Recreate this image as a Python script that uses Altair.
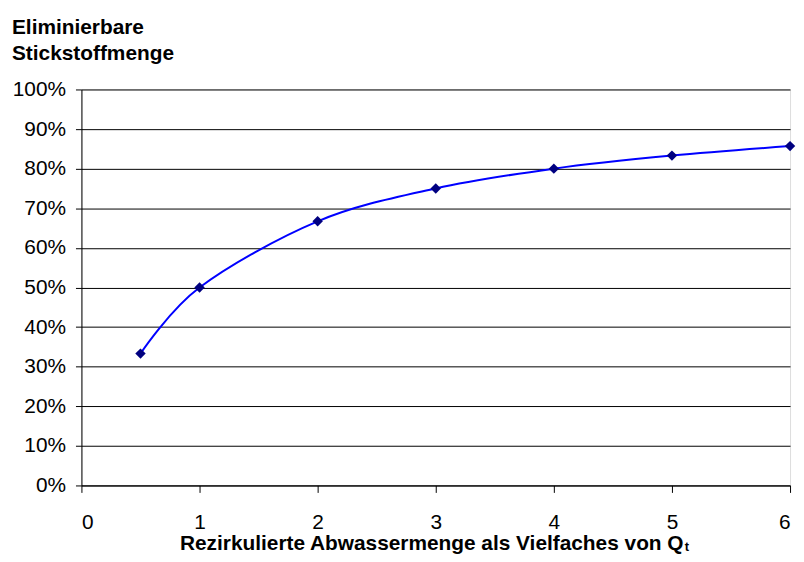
import altair as alt
import pandas as pd

# Data
ratio = [0.5, 1, 2, 3, 4, 5, 6]
removable = [0.333, 0.5, 0.667, 0.75, 0.8, 0.833, 0.857]
x_ticks = [0, 1, 2, 3, 4, 5, 6]
y_ticks = [0, 0.1, 0.2, 0.3, 0.4, 0.5, 0.6, 0.7, 0.8, 0.9, 1.0]

df = pd.DataFrame({"ratio": ratio, "removable": removable})

FONT = "Liberation Sans"

x_enc = alt.X(
    "ratio:Q",
    scale=alt.Scale(domain=[0, 6], nice=False, zero=False),
    axis=alt.Axis(
        values=x_ticks,
        format="d",
        grid=False,
        tickSize=7,
        tickColor="black",
        domainColor="black",
        labelPadding=19,
        labelFontSize=21,
        labelColor="black",
        labelFont=FONT,
        labelOverlap=False,
        title="Rezirkulierte Abwassermenge als Vielfaches von Q",
        titleFont=FONT,
        titleFontSize=21,
        titleFontWeight="bold",
        titleColor="black",
        titleX=352.5,
        titleY=65,
        titleAlign="center",
        titleBaseline="alphabetic",
        titleAnchor="start",
    ),
)

y_enc = alt.Y(
    "removable:Q",
    scale=alt.Scale(domain=[0, 1], nice=False),
    axis=alt.Axis(
        values=y_ticks,
        tickCount=11,
        format=".0%",
        grid=True,
        gridColor="black",
        gridWidth=1,
        tickSize=6,
        tickColor="black",
        domainColor="black",
        labelPadding=10,
        labelFontSize=21,
        labelColor="black",
        labelFont=FONT,
        labelOverlap=False,
        title=None,
    ),
)

base = alt.Chart(df)

line = base.mark_line(color="#0000FF", strokeWidth=2, interpolate="cardinal").encode(x=x_enc, y=y_enc)
points = base.mark_point(shape="diamond", filled=True, color="#000080", size=110, opacity=1).encode(
    x="ratio:Q", y="removable:Q"
)

sub_t = alt.Chart(pd.DataFrame({"s": ["t"]})).mark_text(
    align="left", baseline="alphabetic", font=FONT, fontSize=13, fontWeight="bold", color="black"
).encode(x=alt.value(608), y=alt.value(465), text="s:N")

chart = (
    alt.layer(line, points, sub_t)
    .properties(
        width=714,
        height=399,
        autosize=alt.AutoSizeParams(type="none"),
        padding={"left": 74, "top": 80, "right": 6, "bottom": 67},
        title=alt.TitleParams(
            text=["Eliminierbare", "Stickstoffmenge"],
            anchor="start",
            frame="group",
            font=FONT,
            fontSize=21,
            fontWeight="bold",
            color="black",
            lineHeight=26,
            dx=-70,
            offset=15,
        ),
    )
    .configure_view(stroke="#808080", strokeWidth=1)
    .configure(background="white")
)

chart.save("out.html", embed_options={"renderer": "svg", "actions": False})
